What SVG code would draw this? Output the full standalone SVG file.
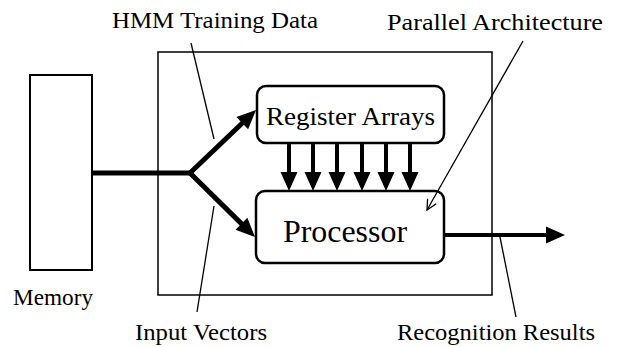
<svg xmlns="http://www.w3.org/2000/svg" width="620" height="347" viewBox="0 0 620 347">
  <style>
    text { font-family: "Liberation Serif", "DejaVu Serif", serif; fill: #000; }
    .lbl { font-size: 24px; }
    .reg { font-size: 26px; }
    .proc { font-size: 32px; }
    .box { fill: #fff; stroke: #000; stroke-width: 2.5; }
    .frame { fill: none; stroke: #000; stroke-width: 1.5; }
    .flow { stroke: #000; stroke-width: 5; fill: none; }
    .bus { stroke: #000; stroke-width: 4; fill: none; marker-end: url(#head); }
    .lead { stroke: #000; stroke-width: 1.3; fill: none; }
  </style>
  <defs>
    <marker id="head" markerUnits="userSpaceOnUse" markerWidth="20" markerHeight="18" refX="6" refY="8.5" orient="auto" overflow="visible">
      <path d="M0,0 L19,8.5 L0,17 z" fill="#000"/>
    </marker>
    <marker id="open" markerUnits="userSpaceOnUse" markerWidth="12" markerHeight="12" refX="10" refY="5" orient="auto" overflow="visible">
      <path d="M0,0 L10,5 L0,10" fill="none" stroke="#000" stroke-width="1.3"/>
    </marker>
  </defs>

  <rect width="620" height="347" fill="#fff"/>

  <!-- enclosing chip boundary -->
  <rect id="chip" class="frame" x="158" y="52" width="334" height="243"/>

  <g id="memory">
    <rect x="30" y="75" width="62" height="195" fill="#fff" stroke="#000" stroke-width="2"/>
    <text class="lbl" x="13" y="305" textLength="80" lengthAdjust="spacingAndGlyphs">Memory</text>
  </g>

  <g id="register-arrays">
    <rect class="box" x="257" y="86" width="187" height="57" rx="9"/>
    <text class="reg" x="266" y="125" textLength="169" lengthAdjust="spacingAndGlyphs">Register Arrays</text>
  </g>

  <g id="processor">
    <rect class="box" x="256" y="191" width="188" height="72" rx="9"/>
    <text class="proc" x="283" y="242" textLength="124" lengthAdjust="spacingAndGlyphs">Processor</text>
  </g>

  <g id="connectors">
    <!-- memory output splitting to both blocks -->
    <polyline class="flow" points="92,173 190,173"/>
    <line class="flow" x1="190" y1="173" x2="246.6" y2="119" marker-end="url(#head)"/>
    <line class="flow" x1="190" y1="173" x2="245.7" y2="227.9" marker-end="url(#head)"/>
    <!-- parallel register-to-processor bus -->
    <line class="bus" x1="289" y1="143" x2="289" y2="178"/>
    <line class="bus" x1="313" y1="143" x2="313" y2="178"/>
    <line class="bus" x1="337" y1="143" x2="337" y2="178"/>
    <line class="bus" x1="362" y1="143" x2="362" y2="178"/>
    <line class="bus" x1="386" y1="143" x2="386" y2="178"/>
    <line class="bus" x1="410" y1="143" x2="410" y2="178"/>
    <!-- result output -->
    <line class="bus" x1="444" y1="235" x2="552" y2="235"/>
    <!-- label leaders -->
    <line class="lead" x1="191" y1="43" x2="214" y2="139"/>
    <line class="lead" x1="523" y1="41" x2="427" y2="210" marker-end="url(#open)"/>
    <line class="lead" x1="214" y1="206" x2="197" y2="312"/>
    <line class="lead" x1="500" y1="237" x2="516" y2="317"/>
  </g>

  <g id="labels">
    <text class="lbl" x="112" y="28" textLength="206" lengthAdjust="spacingAndGlyphs">HMM Training Data</text>
    <text class="lbl" x="387" y="30" textLength="216" lengthAdjust="spacingAndGlyphs">Parallel Architecture</text>
    <text class="lbl" x="135" y="340" textLength="132" lengthAdjust="spacingAndGlyphs">Input Vectors</text>
    <text class="lbl" x="397" y="340" textLength="198" lengthAdjust="spacingAndGlyphs">Recognition Results</text>
  </g>
</svg>
